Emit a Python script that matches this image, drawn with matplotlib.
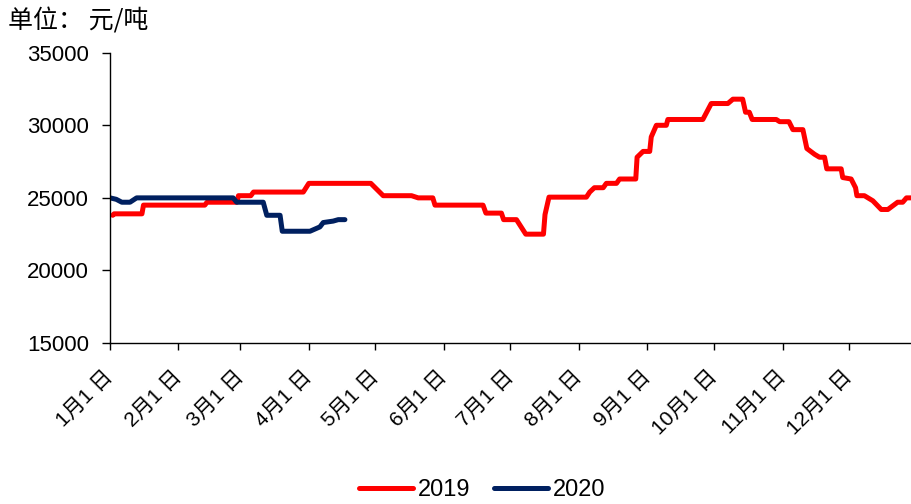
import numpy as np
import matplotlib
matplotlib.use('Agg')
from matplotlib import pyplot as plt

plt.rcParams.update({
    "font.family": ["Liberation Sans", "Noto Sans CJK SC"],
    "axes.unicode_minus": False,
})

#%% data (day of year, price in 元/吨)

days_2019 = [1.4, 2, 14.6, 15.3, 43, 44, 57.5, 58.2, 63.8, 65, 87.5, 90, 118, 123.6,
             136.4, 139.4, 146, 147, 168.7, 170, 177, 178, 183.8, 188, 196, 196.7,
             198.5, 215.4, 216.9, 219, 223, 224.4, 229, 230.4, 237.7, 238.3, 241,
             244, 244.7, 247, 251.5, 252.2, 268, 271.8, 279.3, 281.6, 286, 287.3,
             289, 290.3, 301.2, 302.7, 306.9, 308.7, 313.2, 315, 318.5, 320.7, 323,
             324, 330.5, 331.2, 335, 337, 337.6, 341, 344.8, 348.6, 351.6, 356,
             358.3, 360, 362.5]
price_2019 = [23800, 23900, 23900, 24500, 24500, 24700, 24700, 25150, 25150, 25400,
              25400, 26000, 26000, 25150, 25150, 25000, 25000, 24500, 24500, 23950,
              23950, 23500, 23500, 22500, 22500, 23850, 25050, 25050, 25400, 25700,
              25700, 26000, 26000, 26300, 26300, 27800, 28200, 28200, 29200, 30000,
              30000, 30400, 30400, 31500, 31500, 31800, 31800, 30900, 30900, 30400,
              30400, 30250, 30250, 29700, 29700, 28400, 28000, 27800, 27800, 27000,
              27000, 26400, 26300, 25700, 25150, 25150, 24800, 24200, 24200, 24700,
              24700, 25000, 25000]

days_2020 = [0.2, 3, 5.5, 9.2, 12.2, 55.8, 57.4, 69.4, 71, 77, 78, 90.5, 95, 96.5,
             101, 103.3, 106.3]
price_2020 = [25000, 24900, 24700, 24700, 25000, 25000, 24700, 24700, 23800, 23800,
              22700, 22700, 23000, 23300, 23400, 23500, 23500]

month_starts = [0, 31, 59, 90, 120, 151, 181, 212, 243, 273, 304, 334]
month_labels = [f"{m}月1 日" for m in range(1, 13)]
y_ticks = [15000, 20000, 25000, 30000, 35000]

#%% plot

fig = plt.figure(figsize=(9.12, 5.04), dpi=100)
ax = fig.add_axes([0.1202, 0.3194, 0.8798, 0.576])

ax.plot(days_2019, price_2019, color="#FF0000", linewidth=3.6, label="2019",
        solid_capstyle="round", solid_joinstyle="round")
ax.plot(days_2020, price_2020, color="#002060", linewidth=3.6, label="2020",
        solid_capstyle="round", solid_joinstyle="round")

ax.set_xlim(0, 362.5)
ax.set_ylim(15000, 35000)
ax.set_yticks(y_ticks)
ax.set_xticks(month_starts)
ax.set_xticklabels(month_labels, rotation=45, ha="right", va="center",
                   rotation_mode="anchor", fontsize=15)

for side in ("top", "right"):
    ax.spines[side].set_visible(False)
for side in ("left", "bottom"):
    ax.spines[side].set_linewidth(1.0)

ax.tick_params(axis="y", direction="out", length=6, width=1.0, labelsize=16, pad=9)
ax.tick_params(axis="x", direction="out", length=5, width=1.0, pad=17)

fig.text(0.009, 1 - 21.5 / 504, "单位： 元/吨", fontsize=18, va="center", ha="left",
         family=["Noto Sans CJK SC"], fontweight="light")

fig.legend(loc="center", bbox_to_anchor=(482 / 912, 1 - 490 / 504), ncol=2,
           frameon=False, fontsize=17, handlelength=2.3, handletextpad=0.2,
           columnspacing=1.0)

plt.savefig("out.png", dpi=100)
